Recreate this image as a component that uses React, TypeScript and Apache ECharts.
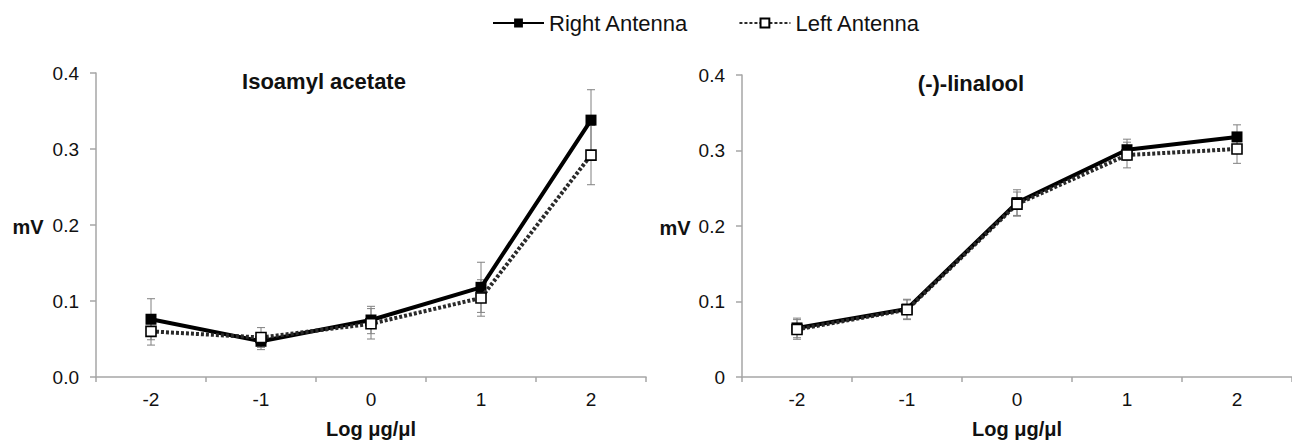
import React, { useEffect, useRef } from "react";
import * as echarts from "echarts";

const categories = ["-2", "-1", "0", "1", "2"];

const isoRight = [0.076, 0.047, 0.075, 0.118, 0.338];
const isoRightErr = [0.027, 0.011, 0.018, 0.033, 0.040];
const isoLeft = [0.060, 0.052, 0.070, 0.104, 0.292];
const isoLeftErr = [0.018, 0.013, 0.020, 0.024, 0.039];

const linRight = [0.065, 0.090, 0.231, 0.301, 0.318];
const linRightErr = [0.013, 0.013, 0.017, 0.014, 0.016];
const linLeft = [0.063, 0.089, 0.229, 0.294, 0.302];
const linLeftErr = [0.013, 0.013, 0.016, 0.017, 0.019];

const titles = ["Isoamyl acetate", "(-)-linalool"];
const seriesNames = ["Right Antenna", "Left Antenna"];

const FONT = "'Liberation Sans', Arial, sans-serif";

function errData(vals: number[], errs: number[]) {
  return vals.map((v, i) => [i, v, errs[i]]);
}

function errorSeries(idx: number, vals: number[], errs: number[]) {
  return {
    type: "custom",
    xAxisIndex: idx,
    yAxisIndex: idx,
    z: 1,
    silent: true,
    data: errData(vals, errs),
    encode: { x: 0, y: 1 },
    renderItem: (params: any, api: any) => {
      const i = api.value(0);
      const v = api.value(1);
      const e = api.value(2);
      const top = api.coord([i, v + e]);
      const bot = api.coord([i, v - e]);
      const hw = 4;
      const style = { stroke: "#808080", lineWidth: 1 };
      return {
        type: "group",
        children: [
          { type: "line", shape: { x1: top[0], y1: top[1], x2: bot[0], y2: bot[1] }, style },
          { type: "line", shape: { x1: top[0] - hw, y1: top[1], x2: top[0] + hw, y2: top[1] }, style },
          { type: "line", shape: { x1: bot[0] - hw, y1: bot[1], x2: bot[0] + hw, y2: bot[1] }, style },
        ],
      };
    },
  };
}

function rightSeries(idx: number, vals: number[]) {
  return {
    name: seriesNames[0],
    type: "line",
    xAxisIndex: idx,
    yAxisIndex: idx,
    z: 3,
    data: vals,
    symbol: "rect",
    symbolSize: 11,
    lineStyle: { color: "#000", width: 4 },
    itemStyle: { color: "#000", borderColor: "#000", borderWidth: 0 },
  };
}

function leftSeries(idx: number, vals: number[]) {
  return {
    name: seriesNames[1],
    type: "line",
    xAxisIndex: idx,
    yAxisIndex: idx,
    z: 4,
    data: vals,
    symbol: "rect",
    symbolSize: 10,
    lineStyle: { color: "#2a2a2a", width: 4, type: [3, 2] },
    itemStyle: { color: "#fff", borderColor: "#000", borderWidth: 1.6 },
  };
}

const axisGray = "#a6a6a6";

function xAxis(idx: number) {
  return {
    type: "category",
    gridIndex: idx,
    data: categories,
    boundaryGap: true,
    axisLine: { lineStyle: { color: axisGray, width: 1.5 } },
    axisTick: { show: true, length: 5, lineStyle: { color: axisGray, width: 1.5 } },
    axisLabel: { color: "#111", fontSize: 19, fontFamily: FONT, margin: 13 },
    name: "Log μg/μl",
    nameLocation: "middle",
    nameGap: 42,
    nameTextStyle: { color: "#111", fontSize: 20, fontWeight: "bold", fontFamily: FONT },
    splitLine: { show: false },
  };
}

function yAxis(idx: number, fixed: boolean) {
  return {
    type: "value",
    gridIndex: idx,
    min: 0,
    max: 0.4,
    interval: 0.1,
    axisLine: { show: true, lineStyle: { color: axisGray, width: 1.5 } },
    axisTick: { show: true, length: 6, lineStyle: { color: axisGray, width: 1.5 } },
    axisLabel: {
      color: "#111",
      fontSize: 19,
      fontFamily: FONT,
      margin: 17,
      formatter: (v: number) => (fixed ? v.toFixed(1) : v === 0 ? "0" : String(Math.round(v * 10) / 10)),
    },
    splitLine: { show: false },
  };
}

export default function App() {
  const ref = useRef<HTMLDivElement>(null);
  useEffect(() => {
    document.body.style.margin = "0";
    if (!ref.current) return;
    const chart = echarts.init(ref.current, undefined, { renderer: "svg" });
    chart.setOption({
      animation: false,
      backgroundColor: "#fff",
      textStyle: { fontFamily: FONT },
      legend: {
        data: seriesNames,
        left: 492,
        top: 12,
        padding: 0,
        itemWidth: 51,
        itemHeight: 11,
        itemGap: 50,
        textStyle: { color: "#111", fontSize: 22, fontFamily: FONT },
      },
      title: [
        {
          text: titles[0],
          left: 324,
          top: 70,
          padding: 0,
          textAlign: "center",
          textStyle: { color: "#111", fontSize: 22, fontWeight: "bold", fontFamily: FONT },
        },
        {
          text: titles[1],
          left: 971,
          top: 72,
          padding: 0,
          textAlign: "center",
          textStyle: { color: "#111", fontSize: 22, fontWeight: "bold", fontFamily: FONT },
        },
      ],
      grid: [
        { left: 96, top: 73, width: 550, height: 306 },
        { left: 742, top: 75, width: 553, height: 306 },
      ],
      xAxis: [xAxis(0), xAxis(1)],
      yAxis: [yAxis(0, true), yAxis(1, false)],
      graphic: [
        {
          type: "text",
          x: 28,
          y: 227,
          style: {
            text: "mV",
            fontSize: 20,
            fontWeight: "bold",
            fontFamily: FONT,
            fill: "#111",
            align: "center",
            verticalAlign: "middle",
          },
        },
        {
          type: "text",
          x: 675,
          y: 228,
          style: {
            text: "mV",
            fontSize: 20,
            fontWeight: "bold",
            fontFamily: FONT,
            fill: "#111",
            align: "center",
            verticalAlign: "middle",
          },
        },
      ],
      series: [
        errorSeries(0, isoRight, isoRightErr),
        errorSeries(0, isoLeft, isoLeftErr),
        errorSeries(1, linRight, linRightErr),
        errorSeries(1, linLeft, linLeftErr),
        rightSeries(0, isoRight),
        leftSeries(0, isoLeft),
        rightSeries(1, linRight),
        leftSeries(1, linLeft),
      ],
    });
    return () => chart.dispose();
  }, []);
  return <div ref={ref} style={{ width: 1292, height: 444 }} />;
}
